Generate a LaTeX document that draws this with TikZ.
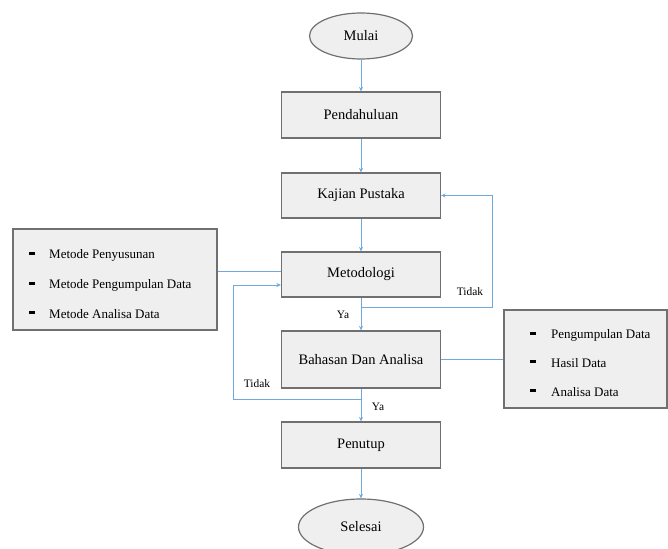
\documentclass[tikz,border=0pt]{standalone}
\usepackage{fontspec}
\setmainfont{Liberation Serif}
\usetikzlibrary{arrows.meta,calc,shapes.geometric}
\definecolor{lnblue}{HTML}{6FA8DC}
\definecolor{boxfill}{HTML}{EFEFEF}
\definecolor{boxdraw}{HTML}{707070}
\tikzset{
  procbox/.style={draw=boxdraw,fill=boxfill,line width=1.2pt,minimum width=159pt,inner sep=0pt,font=\fontsize{14.5}{16}\selectfont},
  termnode/.style={ellipse,draw=boxdraw,fill=boxfill,line width=1.2pt,inner sep=0pt,font=\fontsize{14.5}{16}\selectfont},
  sidebox/.style={draw=boxdraw,fill=boxfill,line width=1.2pt,inner sep=0pt},
  flow/.style={draw=lnblue,line width=1pt,-{Stealth[length=4.5pt,width=4pt]}},
  plain/.style={draw=lnblue,line width=1pt},
  itemtxt/.style={anchor=west,inner sep=0pt,font=\fontsize{13}{15}\selectfont},
  dashmark/.style={inner sep=0pt,minimum width=6pt,minimum height=2.4pt,fill=black},
  lbl/.style={inner sep=0pt,font=\fontsize{11.4}{13}\selectfont}
}
\begin{document}
\begin{tikzpicture}[x=1pt,y=-1pt]
\useasboundingbox (0,0) rectangle (668,548);
% terminals
\node[termnode,minimum width=103pt,minimum height=46pt] (mulai) at (361,36) {Mulai};
\node[termnode,minimum width=125pt,minimum height=56pt] (selesai) at (361,527) {Selesai};
% process boxes
\node[procbox,minimum height=46pt] (pend) at (361,115) {Pendahuluan};
\node[procbox,minimum height=45pt] (kajian) at (361,195.5) {Kajian Pustaka};
\node[procbox,minimum height=45pt] (metod) at (361,274.5) {Metodologi};
\node[procbox,minimum height=57pt] (bahas) at (361,359.5) {Bahasan Dan Analisa};
\node[procbox,minimum height=46pt] (penutup) at (361,445) {Penutup};
% side boxes
\node[sidebox,minimum width=204pt,minimum height=101pt] (leftbox) at (115,279.5) {};
\node[dashmark] (ld1) at (31.5,253.5) {};
\node[dashmark] (ld2) at (31.5,283.5) {};
\node[dashmark] (ld3) at (31.5,312.5) {};
\node[itemtxt] (lt1) at (49,255) {Metode Penyusunan};
\node[itemtxt] (lt2) at (49,285) {Metode Pengumpulan Data};
\node[itemtxt] (lt3) at (49,314) {Metode Analisa Data};
\node[sidebox,minimum width=163pt,minimum height=98pt] (rightbox) at (585.5,359) {};
\node[dashmark] (rd1) at (533,333.5) {};
\node[dashmark] (rd2) at (533,361.5) {};
\node[dashmark] (rd3) at (533,390.5) {};
\node[itemtxt] (rt1) at (551,335) {Pengumpulan Data};
\node[itemtxt] (rt2) at (551,363) {Hasil Data};
\node[itemtxt] (rt3) at (551,392) {Analisa Data};
% junction coordinates
\coordinate (j1) at (361,307);
\coordinate (j2) at (361,399);
% main flow
\draw[flow] (mulai) -- (pend);
\draw[flow] (pend) -- (kajian);
\draw[flow] (kajian) -- (metod);
\draw[plain] (metod.south) -- (j1);
\draw[flow] (j1) -- (bahas.north);
\draw[plain] (bahas.south) -- (j2);
\draw[flow] (j2) -- (penutup.north);
\draw[flow] (penutup) -- (selesai);
% feedback loops
\draw[flow] (j1) -- (492,307) -- (492,195.5) -- (kajian.east);
\draw[flow] (j2) -- (233,399) -- (233,285) -- (metod.west |- 0,285);
% side connections
\draw[plain] (leftbox.east |- 0,271) -- (metod.west |- 0,271);
\draw[plain] (bahas.east) -- (rightbox.west |- bahas.east);
% labels
\node[lbl] (ya1) at (343,315) {Ya};
\node[lbl] (td1) at (470,292) {Tidak};
\node[lbl] (td2) at (257,384) {Tidak};
\node[lbl] (ya2) at (378,407) {Ya};
\end{tikzpicture}
\end{document}
